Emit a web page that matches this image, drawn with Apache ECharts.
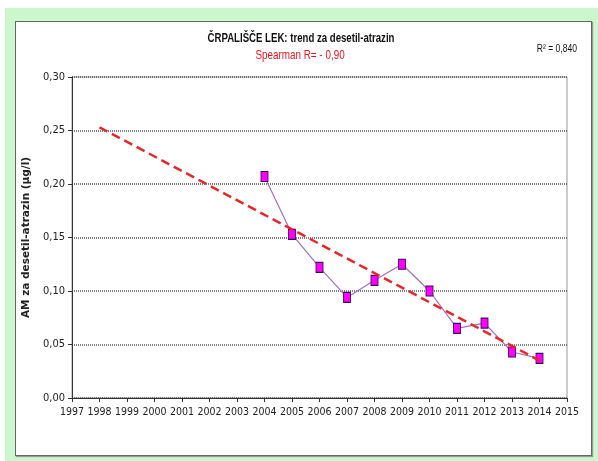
<!DOCTYPE html>
<html>
<head>
<meta charset="utf-8">
<script src="https://cdn.jsdelivr.net/npm/echarts@6/dist/echarts.min.js"></script>
<style>
html,body{margin:0;padding:0;background:#fff;}
#outer{position:absolute;left:5px;top:8px;width:593px;height:453px;background:#ccf7cc;}
#inner{position:absolute;left:15px;top:21px;width:575px;height:433px;background:#fff;border:1px solid #666;box-shadow:1px 1px 1px #999;}
#chart{position:absolute;left:0;top:0;width:598px;height:461px;}
</style>
</head>
<body>
<div id="outer"></div>
<div id="inner"></div>
<div id="chart"></div>
<script>
const years = [2004, 2005, 2006, 2007, 2008, 2009, 2010, 2011, 2012, 2013, 2014];
const values = [0.207, 0.153, 0.122, 0.094, 0.110, 0.125, 0.100, 0.065, 0.070, 0.043, 0.037];
const trendYears = [1998, 2014];
const trendValues = [0.253, 0.035];
const yTicks = [0, 0.05, 0.10, 0.15, 0.20, 0.25, 0.30];
const titleText = 'ČRPALIŠČE LEK: trend za desetil-atrazin';
const subtitleText = 'Spearman R= - 0,90';
const r2Text = 'R² = 0,840';
const yName = 'AM za desetil-atrazin (µg/l)';

const FONT = "'DejaVu Sans Condensed', 'Liberation Sans Narrow', sans-serif";
const chart = echarts.init(document.getElementById('chart'), null, {renderer: 'canvas'});
chart.setOption({
  backgroundColor: 'transparent',
  animation: false,
  graphic: [
    {type: 'text', x: 301, y: 38, scaleX: 0.74, z: 10,
     style: {text: titleText, font: 'bold 13px "Liberation Sans", Arial, sans-serif', fill: '#111',
             textAlign: 'center', textVerticalAlign: 'middle'}},
    {type: 'text', x: 300, y: 55, scaleX: 0.76, z: 10,
     style: {text: subtitleText, font: '13px "Liberation Sans", Arial, sans-serif', fill: '#e8141e',
             textAlign: 'center', textVerticalAlign: 'middle'}},
    {type: 'text', x: 577, y: 49, scaleX: 0.78, z: 10,
     style: {text: r2Text, font: '11px "Liberation Sans", Arial, sans-serif', fill: '#111',
             textAlign: 'right', textVerticalAlign: 'middle'}}
  ],
  grid: {left: 72, right: 31, top: 77, bottom: 63, show: true, borderColor: '#999', borderWidth: 1},
  xAxis: {
    type: 'value', min: 1997, max: 2015, interval: 1,
    axisLine: {lineStyle: {color: '#333', width: 1}},
    axisTick: {show: true, length: 4, lineStyle: {color: '#333'}},
    splitLine: {show: false},
    axisLabel: {fontFamily: FONT, fontSize: 10.5, color: '#222', margin: 9, formatter: v => String(v)}
  },
  yAxis: {
    type: 'value', min: 0, max: 0.3, interval: 0.05,
    name: yName, nameLocation: 'middle', nameGap: 35,
    nameTextStyle: {fontFamily: "'DejaVu Sans', sans-serif", fontSize: 10.5, fontWeight: 'bold', color: '#222'},
    axisLine: {show: true, lineStyle: {color: '#333', width: 1}},
    axisTick: {show: true, length: 4, lineStyle: {color: '#333'}},
    splitLine: {show: true, lineStyle: {color: '#555', type: [1, 1], width: 1.5}},
    axisLabel: {fontFamily: FONT, fontSize: 11, color: '#222', margin: 7,
      formatter: v => yTicks.includes(+v.toFixed(2)) ? v.toFixed(2).replace('.', ',') : ''}
  },
  series: [
    {
      type: 'line',
      data: trendYears.map((y, i) => [y, trendValues[i]]),
      symbol: 'none',
      lineStyle: {color: '#e8262a', width: 2.5, type: [9, 5]},
      z: 3
    },
    {
      type: 'line',
      data: years.map((y, i) => [y, values[i]]),
      symbol: 'rect', symbolSize: [7, 10],
      itemStyle: {color: '#ff00ff', borderColor: '#3a0a5a', borderWidth: 1},
      lineStyle: {color: '#a070c0', width: 1.2},
      z: 2
    }
  ]
});
</script>
</body>
</html>
